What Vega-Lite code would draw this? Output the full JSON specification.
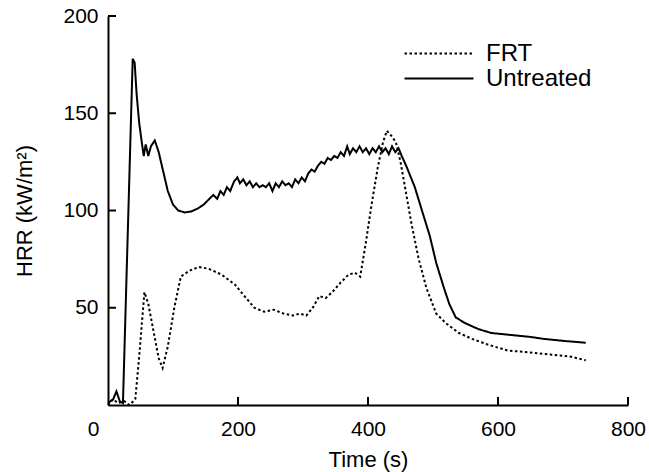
{
  "$schema": "https://vega.github.io/schema/vega-lite/v6.json",
  "autosize": {"type": "none"},
  "padding": {"left": 108, "top": 16, "right": 21, "bottom": 67},
  "width": 520,
  "height": 389,
  "background": "white",
  "config": {
    "view": {"stroke": null},
    "font": "Liberation Sans",
    "axis": {"grid": false, "domainColor": "black", "tickColor": "black", "labelColor": "black", "titleColor": "black", "domainWidth": 2, "tickWidth": 2, "labelFont": "Liberation Sans", "titleFont": "Liberation Sans", "titleFontWeight": "normal"}
  },
  "datasets": {
    "curves": [
      {"t": 0, "hrr": 1, "series": "Untreated"},
      {"t": 8, "hrr": 3, "series": "Untreated"},
      {"t": 13, "hrr": 7, "series": "Untreated"},
      {"t": 18, "hrr": 2, "series": "Untreated"},
      {"t": 23, "hrr": 1, "series": "Untreated"},
      {"t": 38, "hrr": 178, "series": "Untreated"},
      {"t": 41, "hrr": 176, "series": "Untreated"},
      {"t": 44, "hrr": 160, "series": "Untreated"},
      {"t": 48, "hrr": 145, "series": "Untreated"},
      {"t": 52, "hrr": 135, "series": "Untreated"},
      {"t": 55, "hrr": 128, "series": "Untreated"},
      {"t": 58, "hrr": 134, "series": "Untreated"},
      {"t": 62, "hrr": 128, "series": "Untreated"},
      {"t": 66, "hrr": 133, "series": "Untreated"},
      {"t": 72, "hrr": 136, "series": "Untreated"},
      {"t": 78, "hrr": 130, "series": "Untreated"},
      {"t": 85, "hrr": 120, "series": "Untreated"},
      {"t": 92, "hrr": 110, "series": "Untreated"},
      {"t": 100, "hrr": 103, "series": "Untreated"},
      {"t": 108, "hrr": 100, "series": "Untreated"},
      {"t": 118, "hrr": 99, "series": "Untreated"},
      {"t": 128, "hrr": 99.5, "series": "Untreated"},
      {"t": 138, "hrr": 101, "series": "Untreated"},
      {"t": 147, "hrr": 103, "series": "Untreated"},
      {"t": 156, "hrr": 106, "series": "Untreated"},
      {"t": 162, "hrr": 108, "series": "Untreated"},
      {"t": 168, "hrr": 106, "series": "Untreated"},
      {"t": 173, "hrr": 110, "series": "Untreated"},
      {"t": 178, "hrr": 108, "series": "Untreated"},
      {"t": 183, "hrr": 112, "series": "Untreated"},
      {"t": 188, "hrr": 110, "series": "Untreated"},
      {"t": 194, "hrr": 115, "series": "Untreated"},
      {"t": 199, "hrr": 117, "series": "Untreated"},
      {"t": 203, "hrr": 114, "series": "Untreated"},
      {"t": 208, "hrr": 116, "series": "Untreated"},
      {"t": 213, "hrr": 113, "series": "Untreated"},
      {"t": 218, "hrr": 115, "series": "Untreated"},
      {"t": 223, "hrr": 112, "series": "Untreated"},
      {"t": 228, "hrr": 114, "series": "Untreated"},
      {"t": 233, "hrr": 112, "series": "Untreated"},
      {"t": 238, "hrr": 113, "series": "Untreated"},
      {"t": 243, "hrr": 112, "series": "Untreated"},
      {"t": 248, "hrr": 114, "series": "Untreated"},
      {"t": 253, "hrr": 110, "series": "Untreated"},
      {"t": 258, "hrr": 114, "series": "Untreated"},
      {"t": 263, "hrr": 112, "series": "Untreated"},
      {"t": 268, "hrr": 115, "series": "Untreated"},
      {"t": 273, "hrr": 113, "series": "Untreated"},
      {"t": 278, "hrr": 114, "series": "Untreated"},
      {"t": 283, "hrr": 112, "series": "Untreated"},
      {"t": 288, "hrr": 116, "series": "Untreated"},
      {"t": 293, "hrr": 114, "series": "Untreated"},
      {"t": 298, "hrr": 117, "series": "Untreated"},
      {"t": 303, "hrr": 115, "series": "Untreated"},
      {"t": 308, "hrr": 119, "series": "Untreated"},
      {"t": 313, "hrr": 121, "series": "Untreated"},
      {"t": 318, "hrr": 120, "series": "Untreated"},
      {"t": 323, "hrr": 123, "series": "Untreated"},
      {"t": 328, "hrr": 125, "series": "Untreated"},
      {"t": 333, "hrr": 124, "series": "Untreated"},
      {"t": 338, "hrr": 127, "series": "Untreated"},
      {"t": 343, "hrr": 126, "series": "Untreated"},
      {"t": 348, "hrr": 128, "series": "Untreated"},
      {"t": 353, "hrr": 127, "series": "Untreated"},
      {"t": 358, "hrr": 130, "series": "Untreated"},
      {"t": 363, "hrr": 128, "series": "Untreated"},
      {"t": 368, "hrr": 133, "series": "Untreated"},
      {"t": 372, "hrr": 129, "series": "Untreated"},
      {"t": 377, "hrr": 132, "series": "Untreated"},
      {"t": 382, "hrr": 130, "series": "Untreated"},
      {"t": 387, "hrr": 133, "series": "Untreated"},
      {"t": 392, "hrr": 130, "series": "Untreated"},
      {"t": 397, "hrr": 132, "series": "Untreated"},
      {"t": 402, "hrr": 129, "series": "Untreated"},
      {"t": 407, "hrr": 132, "series": "Untreated"},
      {"t": 412, "hrr": 130, "series": "Untreated"},
      {"t": 417, "hrr": 133, "series": "Untreated"},
      {"t": 422, "hrr": 130, "series": "Untreated"},
      {"t": 427, "hrr": 132, "series": "Untreated"},
      {"t": 432, "hrr": 129, "series": "Untreated"},
      {"t": 437, "hrr": 133, "series": "Untreated"},
      {"t": 442, "hrr": 130, "series": "Untreated"},
      {"t": 447, "hrr": 132, "series": "Untreated"},
      {"t": 452, "hrr": 128, "series": "Untreated"},
      {"t": 460, "hrr": 122, "series": "Untreated"},
      {"t": 472, "hrr": 112, "series": "Untreated"},
      {"t": 483, "hrr": 100, "series": "Untreated"},
      {"t": 495, "hrr": 87, "series": "Untreated"},
      {"t": 505, "hrr": 73, "series": "Untreated"},
      {"t": 517, "hrr": 60, "series": "Untreated"},
      {"t": 525, "hrr": 52, "series": "Untreated"},
      {"t": 535, "hrr": 45, "series": "Untreated"},
      {"t": 550, "hrr": 42, "series": "Untreated"},
      {"t": 570, "hrr": 39, "series": "Untreated"},
      {"t": 590, "hrr": 37, "series": "Untreated"},
      {"t": 620, "hrr": 36, "series": "Untreated"},
      {"t": 650, "hrr": 35, "series": "Untreated"},
      {"t": 670, "hrr": 34, "series": "Untreated"},
      {"t": 700, "hrr": 33, "series": "Untreated"},
      {"t": 735, "hrr": 32, "series": "Untreated"},
      {"t": 0, "hrr": 0, "series": "FRT"},
      {"t": 8, "hrr": 3, "series": "FRT"},
      {"t": 15, "hrr": 1, "series": "FRT"},
      {"t": 25, "hrr": 2, "series": "FRT"},
      {"t": 33, "hrr": 0, "series": "FRT"},
      {"t": 42, "hrr": 3, "series": "FRT"},
      {"t": 48, "hrr": 25, "series": "FRT"},
      {"t": 56, "hrr": 58, "series": "FRT"},
      {"t": 62, "hrr": 52, "series": "FRT"},
      {"t": 70, "hrr": 38, "series": "FRT"},
      {"t": 78, "hrr": 24, "series": "FRT"},
      {"t": 84, "hrr": 19, "series": "FRT"},
      {"t": 92, "hrr": 30, "series": "FRT"},
      {"t": 102, "hrr": 50, "series": "FRT"},
      {"t": 112, "hrr": 66, "series": "FRT"},
      {"t": 125, "hrr": 69, "series": "FRT"},
      {"t": 140, "hrr": 71, "series": "FRT"},
      {"t": 155, "hrr": 70, "series": "FRT"},
      {"t": 175, "hrr": 67, "series": "FRT"},
      {"t": 195, "hrr": 62, "series": "FRT"},
      {"t": 210, "hrr": 56, "series": "FRT"},
      {"t": 225, "hrr": 50, "series": "FRT"},
      {"t": 240, "hrr": 48, "series": "FRT"},
      {"t": 255, "hrr": 49, "series": "FRT"},
      {"t": 270, "hrr": 47, "series": "FRT"},
      {"t": 285, "hrr": 46, "series": "FRT"},
      {"t": 295, "hrr": 47, "series": "FRT"},
      {"t": 305, "hrr": 46, "series": "FRT"},
      {"t": 315, "hrr": 50, "series": "FRT"},
      {"t": 325, "hrr": 56, "series": "FRT"},
      {"t": 335, "hrr": 55, "series": "FRT"},
      {"t": 345, "hrr": 58, "series": "FRT"},
      {"t": 358, "hrr": 63, "series": "FRT"},
      {"t": 370, "hrr": 67, "series": "FRT"},
      {"t": 380, "hrr": 68, "series": "FRT"},
      {"t": 388, "hrr": 66, "series": "FRT"},
      {"t": 396, "hrr": 82, "series": "FRT"},
      {"t": 405, "hrr": 102, "series": "FRT"},
      {"t": 415, "hrr": 122, "series": "FRT"},
      {"t": 423, "hrr": 135, "series": "FRT"},
      {"t": 429, "hrr": 141, "series": "FRT"},
      {"t": 437, "hrr": 138, "series": "FRT"},
      {"t": 443, "hrr": 135, "series": "FRT"},
      {"t": 450, "hrr": 125, "series": "FRT"},
      {"t": 458, "hrr": 110, "series": "FRT"},
      {"t": 467, "hrr": 93, "series": "FRT"},
      {"t": 478, "hrr": 75, "series": "FRT"},
      {"t": 490, "hrr": 60, "series": "FRT"},
      {"t": 505, "hrr": 47, "series": "FRT"},
      {"t": 520, "hrr": 42, "series": "FRT"},
      {"t": 540, "hrr": 37, "series": "FRT"},
      {"t": 560, "hrr": 34, "series": "FRT"},
      {"t": 585, "hrr": 31, "series": "FRT"},
      {"t": 615, "hrr": 28, "series": "FRT"},
      {"t": 650, "hrr": 27, "series": "FRT"},
      {"t": 680, "hrr": 26, "series": "FRT"},
      {"t": 710, "hrr": 25, "series": "FRT"},
      {"t": 735, "hrr": 23, "series": "FRT"}
    ],
    "xticks": [{"v": 200}, {"v": 400}, {"v": 600}, {"v": 800}],
    "yticks": [{"v": 50}, {"v": 100}, {"v": 150}, {"v": 200}]
  },
  "layer": [
    {
      "data": {"name": "curves"},
      "mark": {"type": "line", "color": "black", "strokeWidth": 2},
      "encoding": {
        "x": {
          "field": "t", "type": "quantitative",
          "scale": {"domain": [0, 800], "nice": false},
          "axis": {
            "title": "Time (s)", "titleFontSize": 22, "titlePadding": 10,
            "values": [0, 200, 400, 600, 800],
            "labelFontSize": 21, "ticks": false, "tickSize": 0, "labelPadding": 13,
            "labelOffset": {"condition": {"test": "datum.value === 0", "value": -15}, "value": 0},
            "labelFlush": false
          }
        },
        "y": {
          "field": "hrr", "type": "quantitative",
          "scale": {"domain": [0, 200], "nice": false},
          "axis": {
            "title": "HRR (kW/m²)", "titleFontSize": 22, "titlePadding": 26,
            "values": [50, 100, 150, 200],
            "labelFontSize": 21, "ticks": false, "tickSize": 0, "labelPadding": 10
          }
        },
        "strokeDash": {
          "field": "series", "type": "nominal",
          "scale": {"domain": ["FRT", "Untreated"], "range": [[2.5, 2.5], [1, 0]]},
          "legend": {
            "title": null, "orient": "none", "legendX": 295, "legendY": 24.5,
            "symbolType": "M-1,0H5", "symbolSize": 529, "symbolStrokeWidth": 2.2,
            "symbolStrokeColor": "black", "symbolFillColor": "transparent",
            "labelFontSize": 24, "labelFont": "Liberation Sans", "labelColor": "black",
            "labelOffset": 57, "rowPadding": 0, "padding": 0
          }
        }
      }
    },
    {
      "data": {"name": "xticks"},
      "mark": {"type": "rule", "color": "black", "strokeWidth": 2},
      "encoding": {
        "x": {"field": "v", "type": "quantitative"},
        "y": {"datum": 0},
        "y2": {"datum": 4.1}
      }
    },
    {
      "data": {"name": "yticks"},
      "mark": {"type": "rule", "color": "black", "strokeWidth": 2},
      "encoding": {
        "y": {"field": "v", "type": "quantitative"},
        "x": {"datum": 0},
        "x2": {"datum": 12.3}
      }
    }
  ]
}
